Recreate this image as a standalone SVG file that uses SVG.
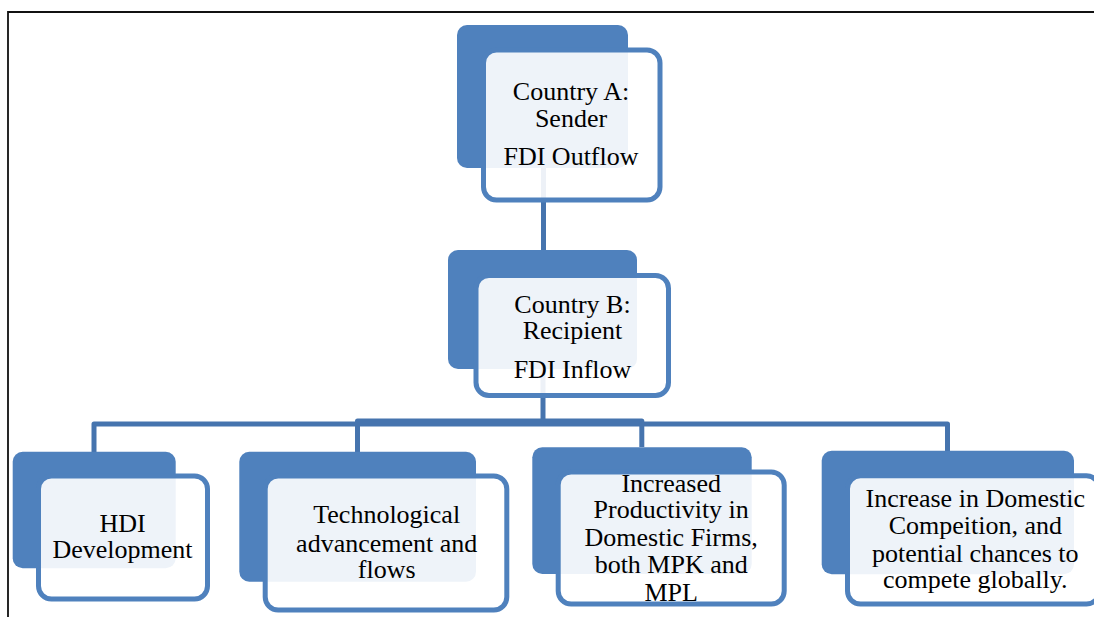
<svg xmlns="http://www.w3.org/2000/svg" width="1094" height="617" viewBox="0 0 1094 617">
  <style>
    .back { fill: #4F81BD; }
    .front { fill: #FFFFFF; fill-opacity: 0.9; stroke: #4F81BD; stroke-width: 5; }
    .lbl { font-family: "Liberation Serif", "Times New Roman", serif; font-size: 26px; fill: #000000; text-anchor: middle; }
    .conn { fill: none; stroke: #4674AE; stroke-width: 5; stroke-linejoin: round; }
    .frame { fill: none; stroke: #111111; stroke-width: 1.8; }
  </style>
  <rect width="1094" height="617" fill="#FFFFFF"/>
  <g id="frame">
    <path class="frame" d="M8,617 V12 H1094"/>
  </g>
  <g id="connectors">
    <path class="conn" d="M543.5,168 V250"/>
    <path class="conn" d="M543,369 V424"/>
    <path class="conn" d="M94,452 V424 H947.5 V451"/>
    <path class="conn" d="M357.5,452 V421 H641.8 V447"/>
  </g>
  <g id="nodeA">
    <rect class="back" x="457" y="25" width="171" height="143" rx="10"/>
    <rect class="front" x="483.5" y="50" width="176.5" height="150" rx="13"/>
    <text class="lbl" x="571" y="100">Country A:</text>
    <text class="lbl" x="571" y="126.7">Sender</text>
    <text class="lbl" x="571" y="165">FDI Outflow</text>
  </g>
  <g id="nodeB">
    <rect class="back" x="448" y="250" width="189" height="119" rx="10"/>
    <rect class="front" x="476" y="275.5" width="192.5" height="120" rx="13"/>
    <text class="lbl" x="572.5" y="312.7">Country B:</text>
    <text class="lbl" x="572.5" y="339.3">Recipient</text>
    <text class="lbl" x="572.5" y="378.3">FDI Inflow</text>
  </g>
  <g id="nodeHDI">
    <rect class="back" x="12.7" y="451.7" width="163" height="116.6" rx="10"/>
    <rect class="front" x="38.5" y="476" width="169" height="123" rx="13"/>
    <text class="lbl" x="122.5" y="531.7">HDI</text>
    <text class="lbl" x="122.5" y="558.3">Development</text>
  </g>
  <g id="nodeTech">
    <rect class="back" x="239.3" y="451.7" width="236.7" height="130" rx="10"/>
    <rect class="front" x="265.2" y="476" width="241.6" height="134" rx="13"/>
    <text class="lbl" x="386.7" y="523.3">Technological</text>
    <text class="lbl" x="386.7" y="551.7">advancement and</text>
    <text class="lbl" x="386.7" y="578.3">flows</text>
  </g>
  <g id="nodeProductivity">
    <rect class="back" x="532.3" y="447.3" width="219.4" height="126.7" rx="10"/>
    <rect class="front" x="558.2" y="472" width="226" height="132" rx="13"/>
    <text class="lbl" x="671.2" y="491.7">Increased</text>
    <text class="lbl" x="671.2" y="518.3">Productivity in</text>
    <text class="lbl" x="671.2" y="546">Domestic Firms,</text>
    <text class="lbl" x="671.2" y="573.3">both MPK and</text>
    <text class="lbl" x="671.2" y="600.7">MPL</text>
  </g>
  <g id="nodeCompetition">
    <rect class="back" x="821.7" y="450.7" width="252.3" height="123.6" rx="10"/>
    <rect class="front" x="847.5" y="475.8" width="252" height="128.2" rx="13"/>
    <text class="lbl" x="975.3" y="506.7">Increase in Domestic</text>
    <text class="lbl" x="975.3" y="534">Compeition, and</text>
    <text class="lbl" x="975.3" y="561.7">potential chances to</text>
    <text class="lbl" x="975.3" y="588.3">compete globally.</text>
  </g>
</svg>
